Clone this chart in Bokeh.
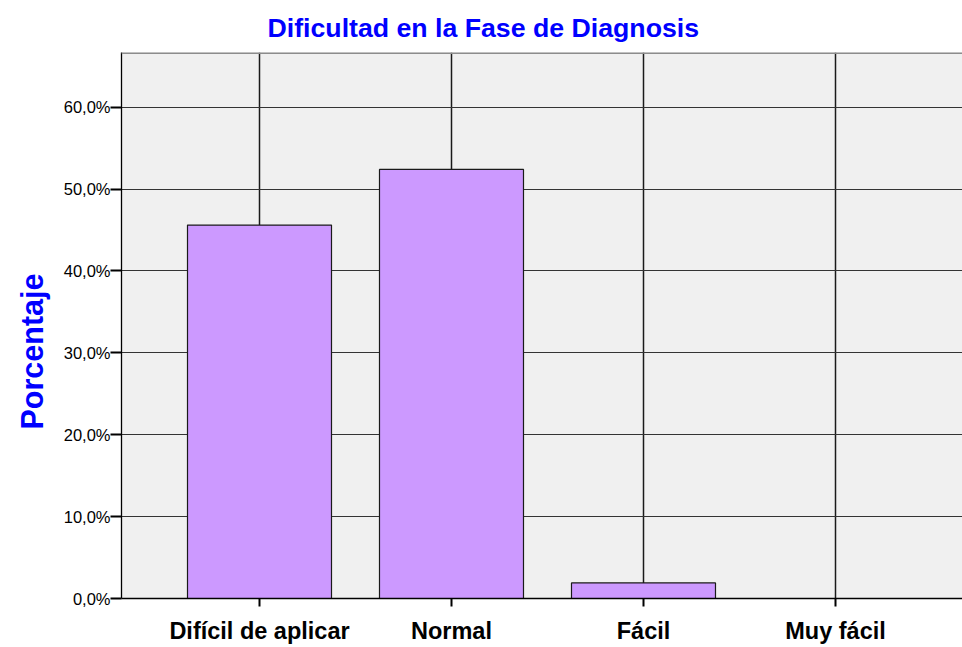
from bokeh.plotting import figure
from bokeh.models import Range1d, FixedTicker, Title, Span
from bokeh.embed import file_html
from bokeh.resources import INLINE

categories = ["Difícil de aplicar", "Normal", "Fácil", "Muy fácil"]
percentages = [45.6, 52.4, 1.9, 0.0]
y_ticks = [0, 10, 20, 30, 40, 50, 60]
y_tick_labels = ["0,0%", "10,0%", "20,0%", "30,0%", "40,0%", "50,0%", "60,0%"]
title_text = "Dificultad en la Fase de Diagnosis"
y_label_text = "Porcentaje"

xs = list(range(len(categories)))

p = figure(width=962, height=647, output_backend="svg", toolbar_location=None,
           x_range=Range1d(-0.71875, 3.6615), y_range=Range1d(0, 66.68),
           min_border_left=121, min_border_right=0, min_border_top=52, min_border_bottom=49)

p.title.text = title_text
p.title.align = "left"
p.title.offset = 146
p.title.text_font = "Liberation Sans"
p.title.text_font_style = "bold"
p.title.text_font_size = "26.7px"
p.title.text_color = "#0000FF"
p.title.standoff = 19

p.background_fill_color = "#F0F0F0"
p.border_fill_color = "white"
p.outline_line_color = None

p.vbar(x=xs, top=percentages, width=0.75, bottom=0,
       fill_color="#CC99FF", line_color="#1a1a1a", line_width=1.2)

top_line = Span(location=p.y_range.end, dimension="width", line_color="#8c8c8c", line_width=3)
p.add_layout(top_line)

# axes
p.xaxis.ticker = FixedTicker(ticks=xs)
p.xaxis.major_label_overrides = {i: c for i, c in enumerate(categories)}
p.xaxis.major_label_text_font = "Liberation Sans"
p.xaxis.major_label_text_font_style = "bold"
p.xaxis.major_label_text_font_size = "23.5px"
p.xaxis.major_label_text_color = "black"
p.xaxis.major_tick_in = 0
p.xaxis.major_tick_out = 8
p.xaxis.minor_tick_line_color = None
p.xaxis.major_label_standoff = 11
p.xaxis.axis_line_color = "black"
p.xaxis.axis_line_width = 1.3
p.xaxis.major_tick_line_width = 2

p.yaxis.ticker = FixedTicker(ticks=y_ticks)
p.yaxis.major_label_overrides = {t: l for t, l in zip(y_ticks, y_tick_labels)}
p.yaxis.major_label_text_font = "Liberation Sans"
p.yaxis.major_label_text_font_size = "16.5px"
p.yaxis.major_label_text_color = "black"
p.yaxis.major_tick_in = 0
p.yaxis.major_tick_out = 11
p.yaxis.minor_tick_line_color = None
p.yaxis.major_label_standoff = 0
p.yaxis.axis_line_color = "black"
p.yaxis.axis_line_width = 1.3
p.yaxis.major_tick_line_width = 2

# grid
p.xgrid.ticker = FixedTicker(ticks=xs)
p.ygrid.ticker = FixedTicker(ticks=y_ticks)
p.xgrid.grid_line_color = "#1a1a1a"
p.xgrid.grid_line_width = 1.5
p.ygrid.grid_line_color = "#333333"
p.ygrid.grid_line_width = 1.2

ylab = Title(text=y_label_text, align="left", offset=169, standoff=23,
             text_font="Liberation Sans", text_font_style="bold",
             text_font_size="30.5px", text_color="#0000FF")
p.add_layout(ylab, "left")

open("out.html", "w").write(file_html(p, INLINE))
